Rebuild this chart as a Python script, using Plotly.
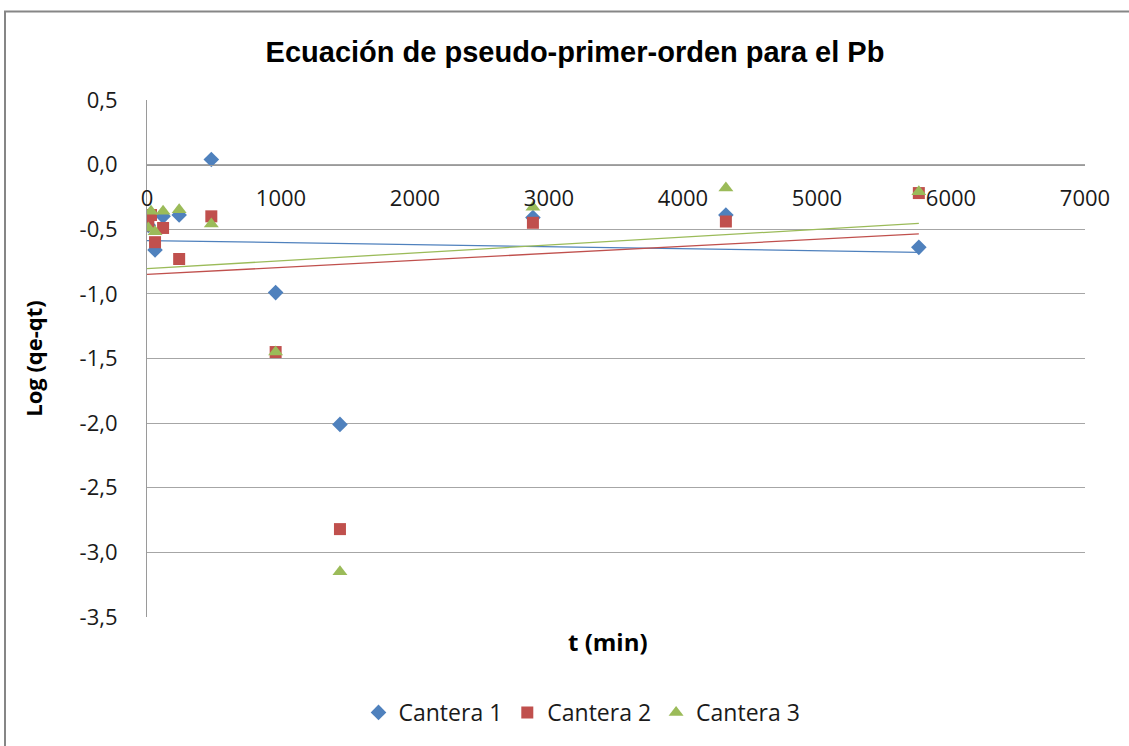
import numpy as np
import plotly.graph_objects as go

# Tiempo de contacto (min)
t_min = [10, 30, 60, 120, 240, 480, 960, 1440, 2880, 4320, 5760]

# Log (qe - qt) para cada cantera
cantera_1 = [-0.47, -0.40, -0.66, -0.40, -0.39, 0.04, -0.99, -2.01, -0.41, -0.39, -0.64]
cantera_2 = [-0.47, -0.39, -0.60, -0.49, -0.73, -0.40, -1.45, -2.82, -0.45, -0.44, -0.22]
cantera_3 = [-0.49, -0.36, -0.52, -0.36, -0.35, -0.46, -1.45, -3.15, -0.33, -0.18, -0.21]

series_names = ["Cantera 1", "Cantera 2", "Cantera 3"]
x_ticks = [0, 1000, 2000, 3000, 4000, 5000, 6000, 7000]
y_ticks = [0.5, 0.0, -0.5, -1.0, -1.5, -2.0, -2.5, -3.0, -3.5]
y_tick_text = ["0,5", "0,0", "-0,5", "-1,0", "-1,5", "-2,0", "-2,5", "-3,0", "-3,5"]

colors = ["#4F81BD", "#C0504D", "#9BBB59"]
symbols = ["diamond", "square", "triangle-up"]
sizes = [12, 12, 13]

FONT = "Open Sans"

fig = go.Figure()

# Líneas de tendencia lineal (mínimos cuadrados) de cada serie
for vals, col in zip([cantera_1, cantera_2, cantera_3], colors):
    slope, intercept = np.polyfit(t_min, vals, 1)
    xs = np.array([0, t_min[-1]])
    fig.add_trace(go.Scatter(
        x=xs, y=intercept + slope * xs, mode="lines",
        line=dict(color=col, width=1.3), showlegend=False, hoverinfo="skip",
    ))

for name, vals, col, sym, sz in zip(series_names, [cantera_1, cantera_2, cantera_3],
                                    colors, symbols, sizes):
    fig.add_trace(go.Scatter(
        x=t_min, y=vals, mode="markers", name=name,
        marker=dict(symbol=sym, color=col, size=sz, line=dict(width=0)),
    ))

W, H = 1129, 746
L, R, T, B = 147, 44, 100, 126

fig.update_layout(
    width=W, height=H,
    margin=dict(l=L, r=R, t=T, b=B),
    paper_bgcolor="white", plot_bgcolor="white",
    separators=",.",
    font=dict(family=FONT, size=22, color="#1a1a1a"),
    title=dict(
        text="<b>Ecuación de pseudo-primer-orden para el Pb</b>",
        font=dict(family="Liberation Sans", size=29, color="#000000"),
        x=575 / W, xref="container", xanchor="center",
        y=1 - 52 / H, yref="container", yanchor="middle",
    ),
    xaxis=dict(
        range=[0, 7000], tickvals=x_ticks, tickformat="d",
        showgrid=False, zeroline=False,
        showline=True, linecolor="#9a9a9a", linewidth=1.2,
        anchor="free", position=0.875,
        ticks="", ticklabelstandoff=14,
        tickfont=dict(family=FONT, size=22, color="#1a1a1a"),
    ),
    yaxis=dict(
        range=[-3.5, 0.5], tickvals=y_ticks, ticktext=y_tick_text,
        showgrid=True, gridcolor="#a6a6a6", gridwidth=1.2,
        zeroline=False,
        showline=True, linecolor="#9a9a9a", linewidth=1.2,
        ticks="", ticklabelstandoff=24,
        tickfont=dict(family=FONT, size=22, color="#1a1a1a"),
        title=dict(text="<b>Log (qe-qt)</b>", standoff=30,
                   font=dict(family=FONT, size=22, color="#000000")),
    ),
    legend=dict(
        orientation="h", x=(582 - L) / (W - L - R), xanchor="center",
        y=(620 - 716) / 520, yanchor="middle",
        font=dict(family=FONT, size=23, color="#1a1a1a"),
        itemwidth=30, tracegroupgap=0,
    ),
    annotations=[dict(
        text="<b>t (min)</b>", xref="paper", yref="paper",
        x=(608 - L) / (W - L - R), y=(620 - 645) / 520,
        xanchor="center", yanchor="middle", showarrow=False,
        font=dict(family=FONT, size=24, color="#000000"),
    )],
    shapes=[dict(
        type="rect", xref="paper", yref="paper",
        x0=(5 - L) / (W - L - R), x1=1.3, y0=-0.5, y1=(620 - 11) / 520,
        line=dict(color="#868686", width=2), fillcolor="rgba(0,0,0,0)", layer="below",
    )],
)

fig.write_html("out.html")
